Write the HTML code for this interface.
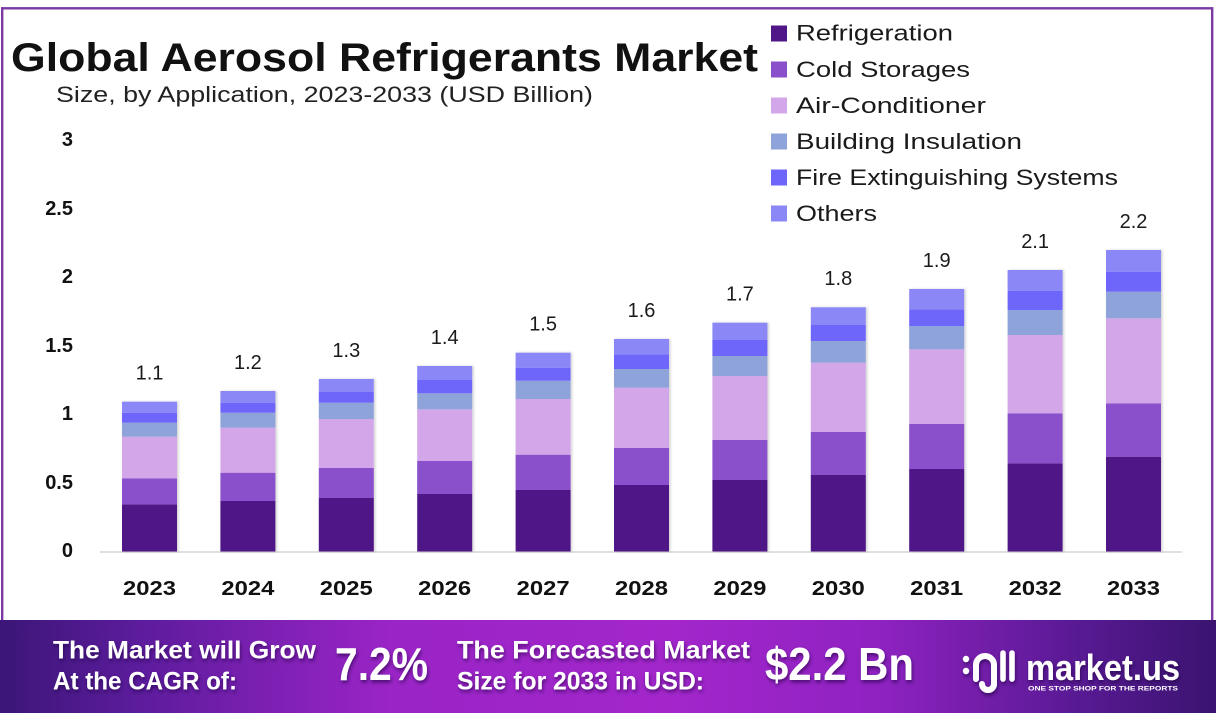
<!DOCTYPE html>
<html>
<head>
<meta charset="utf-8">
<style>
  html,body{margin:0;padding:0;background:#ffffff;}
  body{width:1216px;height:722px;overflow:hidden;}
  svg{display:block;}
  text{font-family:"Liberation Sans", sans-serif;}
</style>
</head>
<body>
<svg width="1216" height="722" viewBox="0 0 1216 722" xmlns="http://www.w3.org/2000/svg">
  <defs>
    <linearGradient id="ban" x1="0" y1="0" x2="1" y2="0">
      <stop offset="0" stop-color="#3B1677"/>
      <stop offset="0.12" stop-color="#5E1C9E"/>
      <stop offset="0.32" stop-color="#9A24C6"/>
      <stop offset="0.55" stop-color="#A326CB"/>
      <stop offset="0.72" stop-color="#9022C2"/>
      <stop offset="0.88" stop-color="#5A1A95"/>
      <stop offset="1" stop-color="#3A1470"/>
    </linearGradient>
    <filter id="ts" x="-10%" y="-30%" width="130%" height="170%">
      <feDropShadow dx="1" dy="2.5" stdDeviation="1.8" flood-color="#1e0040" flood-opacity="0.6"/>
    </filter>
    <filter id="bs" x="-10%" y="-5%" width="125%" height="110%">
      <feDropShadow dx="1.5" dy="0" stdDeviation="1.2" flood-color="#000" flood-opacity="0.18"/>
    </filter>
  </defs>

  <rect x="0" y="0" width="1216" height="722" fill="#ffffff"/>
  <!-- frame -->
  <rect x="2.2" y="8.3" width="1210" height="620" fill="none" stroke="#7B3AA3" stroke-width="2.4"/>

  <!-- title -->
  <text x="11" y="71" font-size="40" font-weight="bold" fill="#111" textLength="747" lengthAdjust="spacingAndGlyphs">Global Aerosol Refrigerants Market</text>
  <text x="56" y="102" font-size="22" fill="#222" textLength="537" lengthAdjust="spacingAndGlyphs">Size, by Application, 2023-2033 (USD Billion)</text>

  <!-- legend -->
  <g font-size="22" fill="#1a1a1a">
    <rect x="771" y="25.5" width="16" height="16" fill="#4F1787"/>
    <text x="796" y="40.7" textLength="157" lengthAdjust="spacingAndGlyphs">Refrigeration</text>
    <rect x="771" y="61.5" width="16" height="16" fill="#8A4FCB"/>
    <text x="796" y="76.8" textLength="174" lengthAdjust="spacingAndGlyphs">Cold Storages</text>
    <rect x="771" y="97.5" width="16" height="16" fill="#D3A6E9"/>
    <text x="796" y="112.9" textLength="190" lengthAdjust="spacingAndGlyphs">Air-Conditioner</text>
    <rect x="771" y="133.5" width="16" height="16" fill="#8DA3D9"/>
    <text x="796" y="149" textLength="226" lengthAdjust="spacingAndGlyphs">Building Insulation</text>
    <rect x="771" y="169.5" width="16" height="16" fill="#6E66FA"/>
    <text x="796" y="185.1" textLength="322" lengthAdjust="spacingAndGlyphs">Fire Extinguishing Systems</text>
    <rect x="771" y="205.5" width="16" height="16" fill="#8C87F7"/>
    <text x="796" y="221.2" textLength="81" lengthAdjust="spacingAndGlyphs">Others</text>
  </g>

  <!-- y axis labels -->
  <g font-size="20" font-weight="bold" fill="#111" text-anchor="end">
    <text x="73" y="146">3</text>
    <text x="73" y="215">2.5</text>
    <text x="73" y="283">2</text>
    <text x="73" y="352">1.5</text>
    <text x="73" y="420">1</text>
    <text x="73" y="489">0.5</text>
    <text x="73" y="557">0</text>
  </g>

  <!-- axis line -->
  <line x1="100" y1="552" x2="1182" y2="552" stroke="#d6d6d6" stroke-width="1.5"/>

  <!-- bars -->
  <g filter="url(#bs)">
    <!-- 2023 -->
    <g transform="translate(122,0)">
      <rect x="0" y="504.3" width="55" height="47.2" fill="#4F1787"/>
      <rect x="0" y="478.3" width="55" height="26" fill="#8A4FCB"/>
      <rect x="0" y="436.7" width="55" height="41.6" fill="#D3A6E9"/>
      <rect x="0" y="422.7" width="55" height="14" fill="#8DA3D9"/>
      <rect x="0" y="412.7" width="55" height="10" fill="#6E66FA"/>
      <rect x="0" y="401.7" width="55" height="11" fill="#8C87F7"/>
    </g>
    <!-- 2024 -->
    <g transform="translate(220.4,0)">
      <rect x="0" y="501" width="55" height="50.5" fill="#4F1787"/>
      <rect x="0" y="472.7" width="55" height="28.3" fill="#8A4FCB"/>
      <rect x="0" y="427.7" width="55" height="45" fill="#D3A6E9"/>
      <rect x="0" y="412.7" width="55" height="15" fill="#8DA3D9"/>
      <rect x="0" y="402.7" width="55" height="10" fill="#6E66FA"/>
      <rect x="0" y="391" width="55" height="11.7" fill="#8C87F7"/>
    </g>
    <!-- 2025 -->
    <g transform="translate(318.8,0)">
      <rect x="0" y="498" width="55" height="53.5" fill="#4F1787"/>
      <rect x="0" y="468" width="55" height="30" fill="#8A4FCB"/>
      <rect x="0" y="419" width="55" height="49" fill="#D3A6E9"/>
      <rect x="0" y="402.7" width="55" height="16.3" fill="#8DA3D9"/>
      <rect x="0" y="392" width="55" height="10.7" fill="#6E66FA"/>
      <rect x="0" y="379" width="55" height="13" fill="#8C87F7"/>
    </g>
    <!-- 2026 -->
    <g transform="translate(417.2,0)">
      <rect x="0" y="494" width="55" height="57.5" fill="#4F1787"/>
      <rect x="0" y="461" width="55" height="33" fill="#8A4FCB"/>
      <rect x="0" y="409.3" width="55" height="51.7" fill="#D3A6E9"/>
      <rect x="0" y="393.3" width="55" height="16" fill="#8DA3D9"/>
      <rect x="0" y="380" width="55" height="13.3" fill="#6E66FA"/>
      <rect x="0" y="366" width="55" height="14" fill="#8C87F7"/>
    </g>
    <!-- 2027 -->
    <g transform="translate(515.6,0)">
      <rect x="0" y="490" width="55" height="61.5" fill="#4F1787"/>
      <rect x="0" y="454.7" width="55" height="35.3" fill="#8A4FCB"/>
      <rect x="0" y="399" width="55" height="55.7" fill="#D3A6E9"/>
      <rect x="0" y="380.7" width="55" height="18.3" fill="#8DA3D9"/>
      <rect x="0" y="367.7" width="55" height="13" fill="#6E66FA"/>
      <rect x="0" y="352.7" width="55" height="15" fill="#8C87F7"/>
    </g>
    <!-- 2028 -->
    <g transform="translate(614,0)">
      <rect x="0" y="485" width="55" height="66.5" fill="#4F1787"/>
      <rect x="0" y="448" width="55" height="37" fill="#8A4FCB"/>
      <rect x="0" y="387.7" width="55" height="60.3" fill="#D3A6E9"/>
      <rect x="0" y="369" width="55" height="18.7" fill="#8DA3D9"/>
      <rect x="0" y="354.3" width="55" height="14.7" fill="#6E66FA"/>
      <rect x="0" y="339" width="55" height="15.3" fill="#8C87F7"/>
    </g>
    <!-- 2029 -->
    <g transform="translate(712.4,0)">
      <rect x="0" y="480" width="55" height="71.5" fill="#4F1787"/>
      <rect x="0" y="440" width="55" height="40" fill="#8A4FCB"/>
      <rect x="0" y="376" width="55" height="64" fill="#D3A6E9"/>
      <rect x="0" y="356" width="55" height="20" fill="#8DA3D9"/>
      <rect x="0" y="340" width="55" height="16" fill="#6E66FA"/>
      <rect x="0" y="322.7" width="55" height="17.3" fill="#8C87F7"/>
    </g>
    <!-- 2030 -->
    <g transform="translate(810.8,0)">
      <rect x="0" y="475" width="55" height="76.5" fill="#4F1787"/>
      <rect x="0" y="432" width="55" height="43" fill="#8A4FCB"/>
      <rect x="0" y="362.7" width="55" height="69.3" fill="#D3A6E9"/>
      <rect x="0" y="341" width="55" height="21.7" fill="#8DA3D9"/>
      <rect x="0" y="325" width="55" height="16" fill="#6E66FA"/>
      <rect x="0" y="307.3" width="55" height="17.7" fill="#8C87F7"/>
    </g>
    <!-- 2031 -->
    <g transform="translate(909.2,0)">
      <rect x="0" y="469" width="55" height="82.5" fill="#4F1787"/>
      <rect x="0" y="424" width="55" height="45" fill="#8A4FCB"/>
      <rect x="0" y="349.3" width="55" height="74.7" fill="#D3A6E9"/>
      <rect x="0" y="326" width="55" height="23.3" fill="#8DA3D9"/>
      <rect x="0" y="309.3" width="55" height="16.7" fill="#6E66FA"/>
      <rect x="0" y="289" width="55" height="20.3" fill="#8C87F7"/>
    </g>
    <!-- 2032 -->
    <g transform="translate(1007.6,0)">
      <rect x="0" y="463.3" width="55" height="88.2" fill="#4F1787"/>
      <rect x="0" y="413.3" width="55" height="50" fill="#8A4FCB"/>
      <rect x="0" y="335" width="55" height="78.3" fill="#D3A6E9"/>
      <rect x="0" y="310" width="55" height="25" fill="#8DA3D9"/>
      <rect x="0" y="290.7" width="55" height="19.3" fill="#6E66FA"/>
      <rect x="0" y="270" width="55" height="20.7" fill="#8C87F7"/>
    </g>
    <!-- 2033 -->
    <g transform="translate(1106,0)">
      <rect x="0" y="456.7" width="55" height="94.8" fill="#4F1787"/>
      <rect x="0" y="403.3" width="55" height="53.4" fill="#8A4FCB"/>
      <rect x="0" y="318.3" width="55" height="85" fill="#D3A6E9"/>
      <rect x="0" y="291.7" width="55" height="26.6" fill="#8DA3D9"/>
      <rect x="0" y="271.7" width="55" height="20" fill="#6E66FA"/>
      <rect x="0" y="250" width="55" height="21.7" fill="#8C87F7"/>
    </g>
  </g>

  <!-- value labels -->
  <g font-size="20" fill="#1a1a1a" text-anchor="middle">
    <text x="149.5" y="379.5">1.1</text>
    <text x="247.9" y="369">1.2</text>
    <text x="346.3" y="357">1.3</text>
    <text x="444.7" y="344">1.4</text>
    <text x="543.1" y="330.5">1.5</text>
    <text x="641.5" y="317">1.6</text>
    <text x="739.9" y="300.5">1.7</text>
    <text x="838.3" y="285">1.8</text>
    <text x="936.7" y="267">1.9</text>
    <text x="1035.1" y="248">2.1</text>
    <text x="1133.5" y="228">2.2</text>
  </g>

  <!-- x axis labels -->
  <g font-size="20" font-weight="bold" fill="#111" text-anchor="middle">
    <text x="149.5" y="595" textLength="53" lengthAdjust="spacingAndGlyphs">2023</text>
    <text x="247.9" y="595" textLength="53" lengthAdjust="spacingAndGlyphs">2024</text>
    <text x="346.3" y="595" textLength="53" lengthAdjust="spacingAndGlyphs">2025</text>
    <text x="444.7" y="595" textLength="53" lengthAdjust="spacingAndGlyphs">2026</text>
    <text x="543.1" y="595" textLength="53" lengthAdjust="spacingAndGlyphs">2027</text>
    <text x="641.5" y="595" textLength="53" lengthAdjust="spacingAndGlyphs">2028</text>
    <text x="739.9" y="595" textLength="53" lengthAdjust="spacingAndGlyphs">2029</text>
    <text x="838.3" y="595" textLength="53" lengthAdjust="spacingAndGlyphs">2030</text>
    <text x="936.7" y="595" textLength="53" lengthAdjust="spacingAndGlyphs">2031</text>
    <text x="1035.1" y="595" textLength="53" lengthAdjust="spacingAndGlyphs">2032</text>
    <text x="1133.5" y="595" textLength="53" lengthAdjust="spacingAndGlyphs">2033</text>
  </g>

  <!-- banner -->
  <rect x="0" y="620" width="1216" height="93" fill="url(#ban)"/>
  <g fill="#ffffff" font-weight="bold" filter="url(#ts)">
    <text x="53" y="658.5" font-size="25" textLength="263" lengthAdjust="spacingAndGlyphs">The Market will Grow</text>
    <text x="53" y="689.5" font-size="25" textLength="184" lengthAdjust="spacingAndGlyphs">At the CAGR of:</text>
    <text x="335" y="680" font-size="46" textLength="93" lengthAdjust="spacingAndGlyphs">7.2%</text>
    <text x="457" y="658.5" font-size="25" textLength="293" lengthAdjust="spacingAndGlyphs">The Forecasted Market</text>
    <text x="457" y="689.5" font-size="25" textLength="247" lengthAdjust="spacingAndGlyphs">Size for 2033 in USD:</text>
    <text x="765" y="680" font-size="46" textLength="149" lengthAdjust="spacingAndGlyphs">$2.2 Bn</text>
    <!-- logo icon -->
    <circle cx="966" cy="659" r="3.2"/>
    <circle cx="966" cy="671" r="3.2"/>
    <path d="M976 679 V665 a9 9 0 0 1 18 0 V684 a6 6 0 0 1 -12 0" fill="none" stroke="#ffffff" stroke-width="6" stroke-linecap="round"/>
    <line x1="1003" y1="653" x2="1003" y2="679" stroke="#ffffff" stroke-width="5.5" stroke-linecap="round"/>
    <line x1="1012" y1="653" x2="1012" y2="679" stroke="#ffffff" stroke-width="5.5" stroke-linecap="round"/>
    <text x="1026" y="680" font-size="36" textLength="154" lengthAdjust="spacingAndGlyphs">market.us</text>
  </g>
  <text x="1028" y="690.5" font-size="6.5" font-weight="bold" fill="#ffffff" textLength="150" lengthAdjust="spacingAndGlyphs">ONE STOP SHOP FOR THE REPORTS</text>
</svg>
</body>
</html>
